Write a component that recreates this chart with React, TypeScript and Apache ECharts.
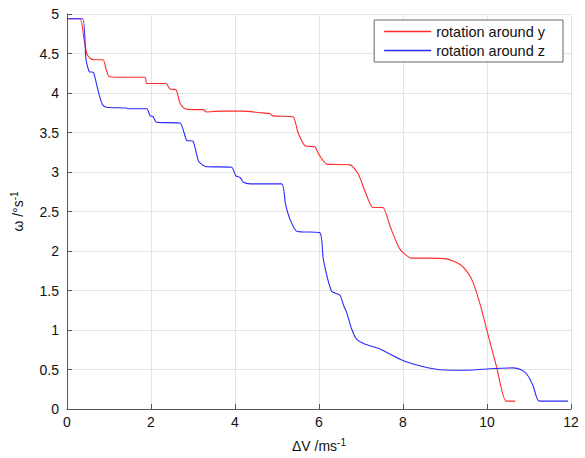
import React, { useEffect, useRef } from "react";
import * as echarts from "echarts";

const xTicks = [0, 2, 4, 6, 8, 10, 12];
const seriesNames = ["rotation around y", "rotation around z"];

const rotY: [number, number][] = [
  [0, 4.94], [0.31, 4.94], [0.4, 4.7], [0.47, 4.5], [0.55, 4.44], [0.65, 4.42], [0.86, 4.42],
  [0.93, 4.3], [1.0, 4.21], [1.2, 4.2], [1.86, 4.2], [1.9, 4.12], [2.36, 4.12],
  [2.45, 4.05], [2.6, 4.04], [2.69, 3.87], [2.81, 3.8], [3.0, 3.79], [3.24, 3.79],
  [3.32, 3.76], [3.64, 3.77], [4.2, 3.77], [4.6, 3.75], [4.83, 3.74], [4.9, 3.71],
  [5.38, 3.7], [5.5, 3.5], [5.67, 3.33], [5.9, 3.32], [6.0, 3.22], [6.18, 3.1],
  [6.74, 3.09], [6.93, 2.98], [7.1, 2.75], [7.28, 2.55], [7.52, 2.55], [7.7, 2.3],
  [7.93, 2.02], [8.2, 1.91], [8.6, 1.91], [9.04, 1.9], [9.36, 1.83], [9.55, 1.72],
  [9.67, 1.6], [9.85, 1.3], [9.99, 1.01], [10.23, 0.53], [10.45, 0.1], [10.67, 0.1],
];

const rotZ: [number, number][] = [
  [0, 4.94], [0.37, 4.94], [0.45, 4.43], [0.53, 4.27], [0.63, 4.26], [0.7, 4.12],
  [0.78, 3.95], [0.85, 3.85], [0.94, 3.82], [1.42, 3.81], [1.45, 3.8], [1.9, 3.8],
  [1.98, 3.71], [2.05, 3.7], [2.13, 3.63], [2.69, 3.62], [2.85, 3.4], [3.0, 3.39],
  [3.13, 3.14], [3.29, 3.07], [3.92, 3.06], [4.02, 2.95], [4.12, 2.93], [4.2, 2.87],
  [4.36, 2.85], [5.11, 2.85], [5.2, 2.6], [5.31, 2.4], [5.47, 2.25], [6.02, 2.23],
  [6.1, 1.9], [6.3, 1.49], [6.5, 1.44], [6.58, 1.32], [6.66, 1.22], [6.78, 1.01],
  [6.9, 0.88], [7.1, 0.82], [7.45, 0.76], [7.93, 0.63], [8.24, 0.57], [8.83, 0.5],
  [9.52, 0.49], [10.07, 0.51], [10.63, 0.52], [10.8, 0.5], [10.95, 0.44], [11.1, 0.29],
  [11.24, 0.1], [11.93, 0.1],
];

const colors = ["#ff2a2a", "#2a2aff"];

export default function App() {
  const ref = useRef<HTMLDivElement>(null);
  useEffect(() => {
    if (!ref.current) return;
    const chart = echarts.init(ref.current, null, { renderer: "svg" });
    const font = "'Liberation Sans', Arial, sans-serif";
    chart.setOption({
      animation: false,
      backgroundColor: "#fff",
      grid: { left: 67, right: 14, top: 14, bottom: 48, containLabel: false },
      legend: {
        data: seriesNames,
        orient: "vertical",
        right: 22,
        top: 20,
        backgroundColor: "#fff",
        borderColor: "#666",
        borderWidth: 1,
        borderRadius: 0,
        padding: [4, 18, 4, 10],
        itemGap: 4,
        itemWidth: 47,
        itemHeight: 1.5,
        icon: "rect",
        textStyle: { fontFamily: font, fontSize: 14.5, color: "#111" },
      },
      xAxis: {
        type: "value",
        min: 0,
        max: 12,
        interval: 2,
        name: "{a|ΔV /ms}{b|-1}",
        nameLocation: "middle",
        nameGap: 28,
        nameTextStyle: {
          rich: {
            a: { fontFamily: font, fontSize: 14, color: "#111" },
            b: { fontFamily: font, fontSize: 10, color: "#111", padding: [0, 0, 8, 0] },
          },
        },
        axisLine: { show: true, lineStyle: { color: "#555", width: 1 } },
        axisTick: { show: true, inside: true, length: 5, lineStyle: { color: "#555" } },
        axisLabel: {
          fontFamily: font,
          fontSize: 14,
          color: "#111",
          margin: 6,
          formatter: (v: number) => (xTicks.includes(v) ? String(v) : ""),
        },
        splitLine: { show: true, lineStyle: { color: "#e4e4e4", width: 1 } },
      },
      yAxis: {
        type: "value",
        min: 0,
        max: 5,
        interval: 0.5,
        name: "{a|ω /°s}{b|-1}",
        nameLocation: "middle",
        nameGap: 40,
        nameTextStyle: {
          rich: {
            a: { fontFamily: font, fontSize: 14, color: "#111" },
            b: { fontFamily: font, fontSize: 10, color: "#111", padding: [0, 0, 8, 0] },
          },
        },
        axisLine: { show: true, lineStyle: { color: "#555", width: 1 } },
        axisTick: { show: true, inside: true, length: 5, lineStyle: { color: "#555" } },
        axisLabel: { fontFamily: font, fontSize: 14, color: "#111", margin: 8 },
        splitLine: { show: true, lineStyle: { color: "#e4e4e4", width: 1 } },
      },
      series: [
        {
          name: seriesNames[0],
          type: "line",
          data: rotY,
          showSymbol: false,
          symbol: "none",
          smooth: 0.2,
          lineStyle: { color: colors[0], width: 1.1 },
          itemStyle: { color: colors[0] },
        },
        {
          name: seriesNames[1],
          type: "line",
          data: rotZ,
          showSymbol: false,
          symbol: "none",
          smooth: 0.2,
          lineStyle: { color: colors[1], width: 1.1 },
          itemStyle: { color: colors[1] },
        },
      ],
    });
    return () => chart.dispose();
  }, []);
  return (
    <div
      ref={ref}
      style={{ position: "absolute", left: 0, top: 0, width: 585, height: 458 }}
    />
  );
}
